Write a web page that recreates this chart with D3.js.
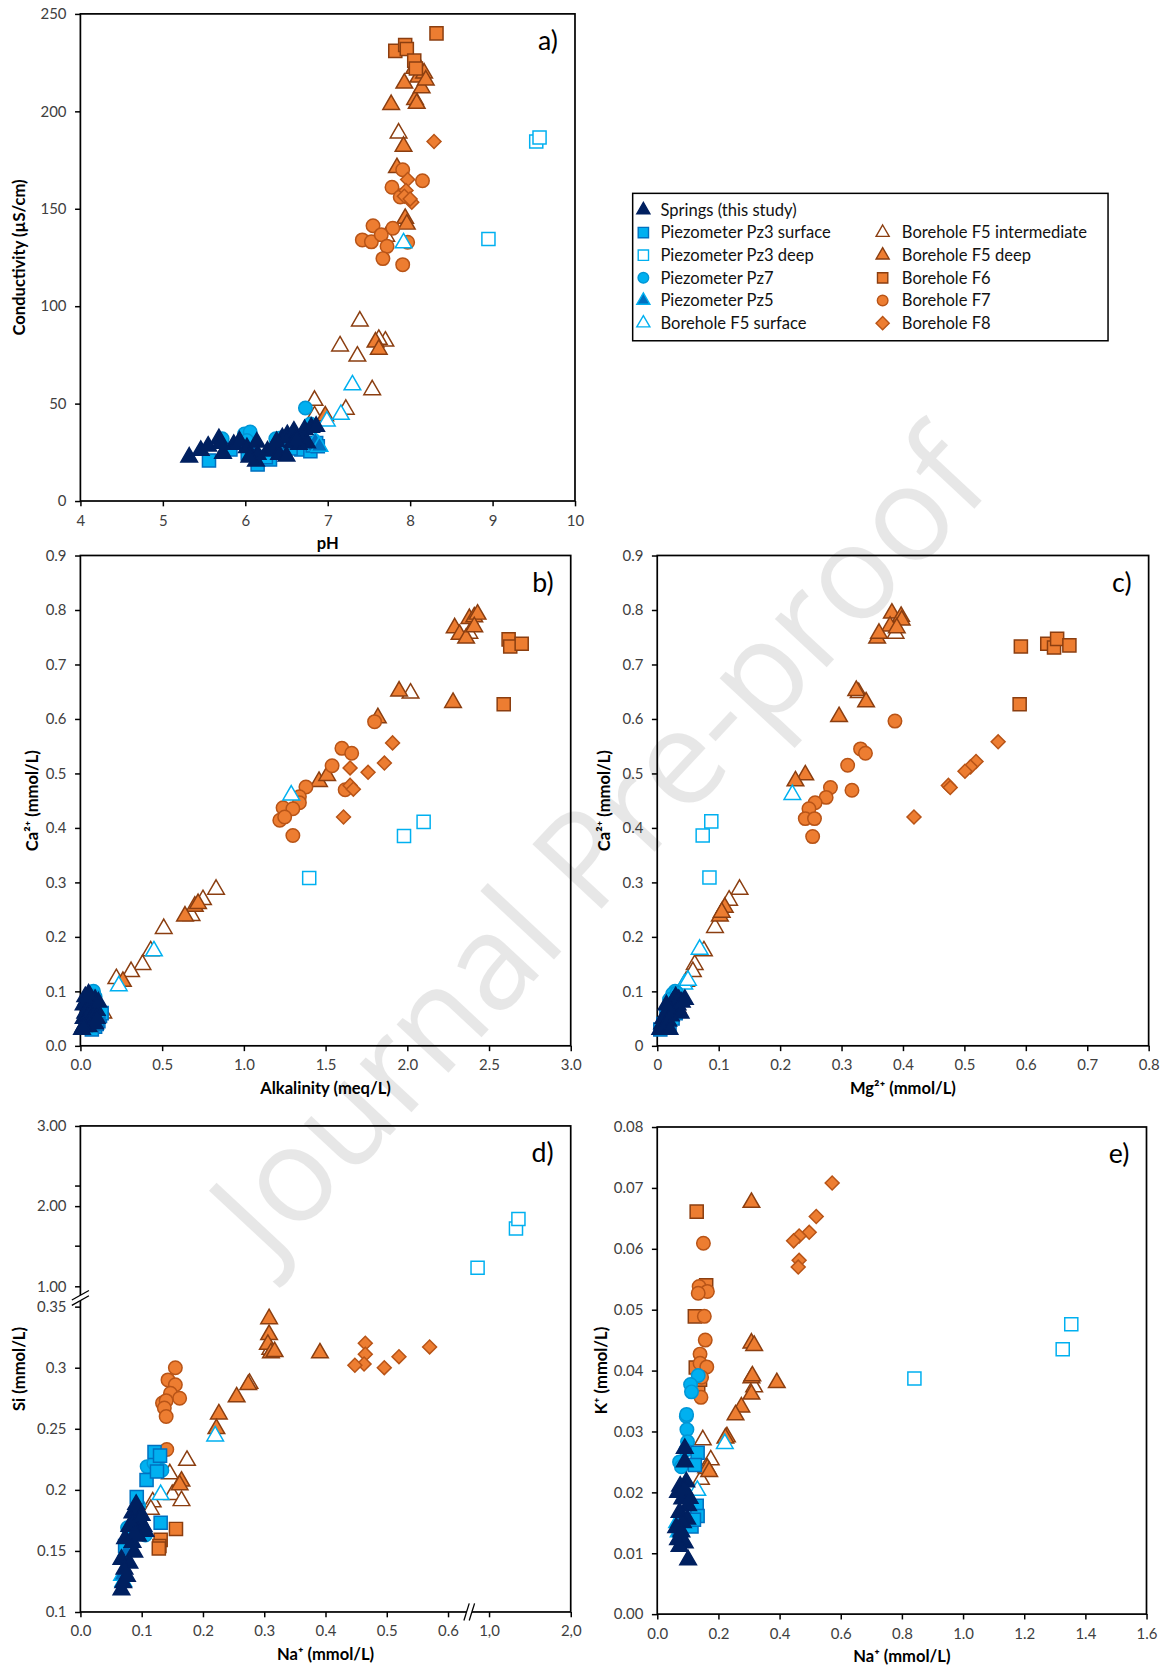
<html>
  <head>
    <script src="https://cdn.jsdelivr.net/npm/d3@7"></script>
    <style>
      body { margin: 0; background: #fff; }
      text { font-family: Lato, "Open Sans", sans-serif; }
    </style>
  </head>
  <body>
    <script>
        // ---- data, one array per series and panel ----
        // a) pH vs conductivity (uS/cm)
        var a_springs = [[5.32,22.5],[5.46,25.9],[5.55,28.1],[5.68,31.9],[5.73,24.4],[5.86,29],[5.93,30.7],[6.02,27.3],[6.14,30.2],[6.13,20.4],[6.15,23.9],[6.27,25.6],[6.33,26.4],[6.41,23.9],[6.50,23],[6.45,32.4],[6.51,34],[6.59,35.8],[6.68,32.4],[6.72,36.6],[6.80,37.8],[6.86,38.3],[6.57,29.8],[6.65,29],[6.75,29.8],[5.70,29.5],[6.05,22.5],[6.38,30.5],[6.62,31.5]];
        var a_pz3s = [[5.56,20.8],[5.82,26.4],[6.03,24.4],[6.15,18.7],[6.30,21.3],[6.68,26.4],[6.79,25.6],[6.82,28.5],[6.86,29.8],[6.88,28.1],[6.25,22.5],[6.55,27]];
        var a_pz3d = [[8.95,134.5],[9.53,184.5],[9.57,186.6]];
        var a_pz7 = [[6.73,47.7],[6.79,39.5],[5.99,34.4],[6.06,35.4],[5.72,31.9],[6.37,31.9],[6.43,32.4],[6.02,31]];
        var a_pz5 = [[6.85,30.5],[6.90,28],[6.40,27]];
        var a_f5s = [[7.30,59.5],[7.16,44.4],[6.99,41],[7.92,132.4],[6.88,29]];
        var a_f5i = [[7.86,188.8],[7.39,92.3],[7.15,79.5],[7.36,74.3],[7.70,82],[7.62,82.9],[7.54,57],[7.22,47],[6.84,51.6],[6.84,43.6],[7.71,135.8],[8.12,222]];
        var a_f5d = [[7.93,214.4],[7.77,203.4],[8.06,206],[8.08,204],[8.14,212],[8.10,217.5],[8.17,219.6],[8.19,216],[7.92,182],[7.94,145],[7.96,142],[7.84,171],[7.58,81.5],[7.62,77.8],[6.97,43.6],[8.05,222]];
        var a_f6 = [[7.82,231],[7.94,234],[7.96,232],[8.05,226],[8.07,222],[8.32,240]];
        var a_f7 = [[7.91,170],[8.15,164.4],[7.78,161],[7.91,157],[7.88,156],[7.55,141.3],[7.79,140],[7.42,134],[7.53,133],[7.65,136.7],[7.72,130.7],[7.97,132.8],[7.67,124.4],[7.91,121.3]];
        var a_f8 = [[8.29,184.5],[7.97,165],[7.95,159.4],[7.93,156.4],[8.02,153.3],[8.00,155]];

        // b) alkalinity (meq/L) vs Ca (mmol/L)
        var b_springs = [[0.01,0.03],[0.02,0.05],[0.02,0.075],[0.03,0.04],[0.03,0.06],[0.04,0.085],[0.04,0.05],[0.05,0.07],[0.05,0.035],[0.06,0.09],[0.06,0.06],[0.07,0.045],[0.07,0.08],[0.08,0.07],[0.08,0.055],[0.09,0.085],[0.09,0.04],[0.10,0.065],[0.03,0.09],[0.11,0.08],[0.05,0.095],[0.02,0.035],[0.10,0.05]];
        var b_pz3s = [[0.12,0.055],[0.13,0.06],[0.11,0.045],[0.09,0.035],[0.07,0.03],[0.10,0.04]];
        var b_pz3d = [[1.40,0.308],[1.98,0.385],[2.10,0.411]];
        var b_pz7 = [[0.08,0.10],[0.07,0.092],[0.06,0.085],[0.09,0.09]];
        var b_pz5 = [[0.05,0.05],[0.08,0.06]];
        var b_f5s = [[1.29,0.46],[0.45,0.174],[0.235,0.11]];
        var b_f5i = [[2.02,0.647],[2.38,0.757],[0.83,0.287],[0.75,0.268],[0.68,0.239],[0.51,0.215],[0.43,0.174],[0.38,0.149],[0.31,0.136],[0.22,0.123],[0.14,0.06]];
        var b_f5d = [[2.29,0.767],[2.32,0.755],[2.36,0.748],[2.38,0.784],[2.41,0.787],[2.43,0.792],[2.41,0.769],[1.95,0.651],[2.28,0.63],[1.46,0.485],[1.51,0.496],[1.82,0.602],[0.70,0.256],[0.64,0.238],[0.26,0.118],[0.72,0.261]];
        var b_f6 = [[2.62,0.746],[2.63,0.733],[2.70,0.738],[2.59,0.627]];
        var b_f7 = [[1.80,0.595],[1.60,0.546],[1.66,0.537],[1.54,0.514],[1.38,0.475],[1.34,0.457],[1.34,0.446],[1.24,0.437],[1.30,0.435],[1.22,0.414],[1.30,0.386],[1.62,0.47],[1.25,0.42]];
        var b_f8 = [[1.91,0.556],[1.86,0.519],[1.76,0.502],[1.65,0.51],[1.65,0.478],[1.67,0.471],[1.61,0.42]];

        // c) Mg vs Ca (mmol/L)
        var c_springs = [[0.005,0.03],[0.008,0.04],[0.01,0.05],[0.012,0.035],[0.015,0.06],[0.018,0.045],[0.02,0.07],[0.022,0.055],[0.025,0.08],[0.028,0.065],[0.03,0.09],[0.033,0.075],[0.035,0.085],[0.038,0.06],[0.04,0.08],[0.015,0.075],[0.045,0.085],[0.02,0.03]];
        var c_pz3s = [[0.01,0.04],[0.015,0.055],[0.02,0.035],[0.025,0.05],[0.03,0.06],[0.005,0.03]];
        var c_pz3d = [[0.088,0.412],[0.074,0.386],[0.085,0.309]];
        var c_pz7 = [[0.029,0.10],[0.025,0.095],[0.02,0.085],[0.032,0.097]];
        var c_pz5 = [[0.012,0.05],[0.018,0.065]];
        var c_f5s = [[0.22,0.461],[0.069,0.177],[0.044,0.113],[0.05,0.12]];
        var c_f5i = [[0.388,0.757],[0.328,0.648],[0.134,0.287],[0.117,0.267],[0.094,0.217],[0.076,0.174],[0.061,0.149],[0.058,0.136],[0.033,0.07]];
        var c_f5d = [[0.382,0.794],[0.397,0.788],[0.398,0.781],[0.379,0.770],[0.390,0.767],[0.358,0.748],[0.361,0.757],[0.324,0.652],[0.340,0.631],[0.296,0.604],[0.241,0.497],[0.225,0.486],[0.102,0.238],[0.110,0.254],[0.047,0.118],[0.105,0.245]];
        var c_f6 = [[0.592,0.733],[0.635,0.738],[0.646,0.731],[0.651,0.747],[0.671,0.735],[0.590,0.627]];
        var c_f7 = [[0.387,0.596],[0.331,0.545],[0.339,0.537],[0.310,0.515],[0.282,0.474],[0.275,0.456],[0.257,0.446],[0.247,0.435],[0.241,0.417],[0.256,0.417],[0.317,0.469],[0.253,0.384]];
        var c_f8 = [[0.555,0.558],[0.519,0.522],[0.510,0.512],[0.501,0.504],[0.474,0.478],[0.477,0.474],[0.418,0.420]];

        // d) Na vs Si (mmol/L)
        var d_springs = [[0.067,0.118],[0.070,0.124],[0.076,0.129],[0.067,0.143],[0.080,0.140],[0.088,0.149],[0.085,0.157],[0.094,0.162],[0.085,0.181],[0.094,0.184],[0.103,0.170],[0.096,0.176],[0.080,0.170],[0.106,0.166],[0.091,0.188],[0.073,0.160],[0.085,0.173],[0.100,0.179],[0.072,0.135],[0.090,0.165]];
        var d_pz3s = [[0.121,0.231],[0.130,0.228],[0.108,0.208],[0.131,0.173],[0.092,0.194],[0.073,0.154],[0.125,0.215]];
        var d_pz3d = [[0.86,1.23],[1.33,1.72],[1.36,1.84]];
        var d_pz7 = [[0.109,0.219],[0.133,0.216],[0.095,0.187],[0.077,0.169],[0.106,0.163],[0.120,0.222]];
        var d_pz5 = [[0.068,0.13],[0.075,0.15]];
        var d_f5s = [[0.220,0.244],[0.131,0.196],[0.070,0.125]];
        var d_f5i = [[0.276,0.287],[0.174,0.224],[0.146,0.213],[0.150,0.196],[0.165,0.191],[0.118,0.19],[0.115,0.184],[0.310,0.315]];
        var d_f5d = [[0.308,0.340],[0.308,0.327],[0.306,0.319],[0.311,0.312],[0.317,0.313],[0.391,0.312],[0.274,0.286],[0.255,0.276],[0.226,0.262],[0.222,0.25],[0.165,0.207],[0.162,0.204]];
        var d_f6 = [[0.156,0.168],[0.131,0.159],[0.129,0.154],[0.128,0.152]];
        var d_f7 = [[0.155,0.30],[0.143,0.29],[0.155,0.286],[0.147,0.279],[0.162,0.275],[0.134,0.271],[0.140,0.273],[0.137,0.267],[0.140,0.26],[0.141,0.233]];
        var d_f8 = [[0.465,0.32],[0.465,0.311],[0.463,0.303],[0.448,0.302],[0.496,0.30],[0.52,0.309],[0.57,0.317]];

        // e) Na vs K (mmol/L)
        var e_springs = [[0.090,0.0272],[0.090,0.025],[0.068,0.020],[0.095,0.0217],[0.082,0.0189],[0.101,0.0178],[0.073,0.0167],[0.098,0.0156],[0.062,0.0142],[0.084,0.015],[0.068,0.0122],[0.090,0.0117],[0.073,0.0111],[0.101,0.0089],[0.075,0.021],[0.106,0.019],[0.088,0.0205],[0.079,0.0135]];
        var e_pz3s = [[0.132,0.0265],[0.123,0.0245],[0.129,0.0178],[0.132,0.0161],[0.112,0.0144],[0.120,0.0155]];
        var e_pz3d = [[0.841,0.0387],[1.326,0.0435],[1.354,0.0476]];
        var e_pz7 = [[0.134,0.0392],[0.109,0.0377],[0.112,0.0365],[0.095,0.0325],[0.097,0.0303],[0.099,0.0283],[0.093,0.0269],[0.073,0.025],[0.079,0.0242],[0.096,0.0328]];
        var e_pz5 = [[0.065,0.015],[0.070,0.0135]];
        var e_f5s = [[0.221,0.028],[0.131,0.0203],[0.068,0.0144]];
        var e_f5i = [[0.149,0.0286],[0.175,0.0253],[0.143,0.0221],[0.317,0.0373],[0.160,0.024]];
        var e_f5d = [[0.308,0.0676],[0.308,0.0445],[0.317,0.0441],[0.308,0.0388],[0.311,0.0391],[0.391,0.038],[0.308,0.0361],[0.275,0.034],[0.256,0.0327],[0.228,0.0291],[0.223,0.0289],[0.164,0.0239],[0.170,0.0234]];
        var e_f6 = [[0.129,0.0661],[0.160,0.054],[0.123,0.0489],[0.126,0.0405],[0.134,0.0372],[0.140,0.0385]];
        var e_f7 = [[0.151,0.0609],[0.137,0.0538],[0.164,0.053],[0.134,0.0527],[0.154,0.0489],[0.157,0.045],[0.140,0.0427],[0.140,0.0412],[0.162,0.0406],[0.145,0.0389],[0.143,0.0356]];
        var e_f8 = [[0.572,0.0708],[0.520,0.0653],[0.497,0.0627],[0.464,0.0621],[0.446,0.0613],[0.464,0.0581],[0.461,0.057]];

        // tick labels
        var a_xTicks = [4,5,6,7,8,9,10], a_yTicks = [0,50,100,150,200,250];
        var b_xTicks = [0,0.5,1,1.5,2,2.5,3], ca_yTicks = [0,0.1,0.2,0.3,0.4,0.5,0.6,0.7,0.8,0.9];
        var c_xTicks = [0,0.1,0.2,0.3,0.4,0.5,0.6,0.7,0.8];
        var d_xTicks = [0,0.1,0.2,0.3,0.4,0.5,0.6,1,2], d_yTicks = [0.1,0.15,0.2,0.25,0.3,0.35,1,2,3], d_yMinor = [1.5,2.25];
        var e_xTicks = [0,0.2,0.4,0.6,0.8,1,1.2,1.4,1.6], e_yTicks = [0,0.01,0.02,0.03,0.04,0.05,0.06,0.07,0.08];

        var seriesKeys = ["springs","pz3s","pz3d","pz7","pz5","f5s","f5i","f5d","f6","f7","f8"];
        var seriesNames = ["Springs (this study)","Piezometer Pz3 surface","Piezometer Pz3 deep","Piezometer Pz7","Piezometer Pz5","Borehole F5 surface","Borehole F5 intermediate","Borehole F5 deep","Borehole F6","Borehole F7","Borehole F8"];

        // ---- styles ----
        var style = {
          springs: {sym:"tri", fill:"#002060", stroke:"#002060"},
          pz3s:    {sym:"sq",  fill:"#00B0F0", stroke:"#0070C0"},
          pz3d:    {sym:"sq",  fill:"#fff",    stroke:"#00B0F0"},
          pz7:     {sym:"ci",  fill:"#00B0F0", stroke:"#0096D6"},
          pz5:     {sym:"tri", fill:"#0070C0", stroke:"#00B0F0"},
          f5s:     {sym:"tri", fill:"#fff",    stroke:"#00B0F0"},
          f5i:     {sym:"tri", fill:"#fff",    stroke:"#8B3E10"},
          f5d:     {sym:"tri", fill:"#ED7D31", stroke:"#8B3E10"},
          f6:      {sym:"sq",  fill:"#ED7D31", stroke:"#8B3E10"},
          f7:      {sym:"ci",  fill:"#ED7D31", stroke:"#B85417"},
          f8:      {sym:"di",  fill:"#ED7D31", stroke:"#B85417"}
        };
        var drawOrder = ["f5i","f5d","f6","f7","f8","f5s","pz3d","pz7","pz3s","pz5","springs"];

        function symPath(s, k) {
          var t = {tri: d3.symbolTriangle, sq: d3.symbolSquare, ci: d3.symbolCircle, di: d3.symbolSquare}[s];
          var size = {tri: 105, sq: 150, ci: 125, di: 85}[s] * k;
          return d3.symbol(t, size)();
        }

        var W = 1091, H = 1568;
        var svg = d3.select("body").append("svg")
            .attr("width", 1166).attr("height", 1675)
            .attr("viewBox", "0 0 " + W + " " + H);

        // watermark
        svg.append("text")
            .attr("transform", "translate(560,790) rotate(-47)")
            .attr("text-anchor", "middle")
            .attr("dy", "0.35em")
            .style("font-family", "'Open Sans', sans-serif")
            .style("font-size", "124px")
            .attr("fill", "#000").attr("opacity", 0.09)
            .text("Journal Pre-proof");

        var f1 = d3.format(".1f"), f2 = d3.format(".2f");

        function drawPanel(o) {
          var g = svg.append("g");
          var xr = o.x.range(), yr = o.y.range();
          var x0 = xr[0], x1 = xr[xr.length - 1], y0 = yr[0], y1 = yr[yr.length - 1];

          var xa = g.append("g").attr("transform", "translate(0," + y0 + ")")
            .call(d3.axisBottom(o.x).tickValues(o.xTicks).tickFormat(o.xFmt).tickSize(5).tickSizeOuter(0).tickPadding(8));
          var ya = g.append("g").attr("transform", "translate(" + x0 + ",0)")
            .call(d3.axisLeft(o.y).tickValues(o.yTicks).tickFormat(o.yFmt).tickSize(5).tickSizeOuter(0).tickPadding(8));
          [xa, ya].forEach(function(a) {
            a.select(".domain").remove();
            a.selectAll(".tick line").attr("stroke", "#000").attr("stroke-width", 1.4);
            a.selectAll(".tick text").attr("fill", "#404040").style("font-size", "14px").style("font-family", "Lato, sans-serif");
          });
          if (o.yMinor) {
            g.selectAll(null).data(o.yMinor).join("line")
              .attr("x1", x0 - 5).attr("x2", x0).attr("y1", function(d){return o.y(d);}).attr("y2", function(d){return o.y(d);})
              .attr("stroke", "#000").attr("stroke-width", 1.4);
          }

          g.append("rect").attr("x", x0).attr("y", y1).attr("width", x1 - x0).attr("height", y0 - y1)
            .attr("fill", "none").attr("stroke", "#000").attr("stroke-width", 1.6);

          drawOrder.forEach(function(k) {
            var st = style[k];
            g.selectAll(null).data(o.data[k]).join("path")
              .attr("d", symPath(st.sym, 1))
              .attr("transform", function(d) {
                return "translate(" + o.x(d[0]) + "," + o.y(d[1]) + ")" + (st.sym === "di" ? " rotate(45)" : "");
              })
              .attr("fill", st.fill).attr("stroke", st.stroke).attr("stroke-width", 1.4);
          });

          g.append("text").attr("x", (x0 + x1) / 2).attr("y", y0 + 45)
            .attr("text-anchor", "middle").style("font-weight", "bold").style("font-size", "15.5px")
            .text(o.xTitle);
          g.append("text").attr("transform", "translate(" + (o.yTitleX + 5.5) + "," + ((y0 + y1) / 2) + ") rotate(-90)")
            .attr("text-anchor", "middle").style("font-weight", "bold").style("font-size", "15.5px")
            .text(o.yTitle);
          g.append("text").attr("x", x1 - 16).attr("y", y1 + 34)
            .attr("text-anchor", "end").style("font-size", "25px")
            .text(o.letter);
          return g;
        }

        function pack(p) {
          return {springs: p[0], pz3s: p[1], pz3d: p[2], pz7: p[3], pz5: p[4], f5s: p[5], f5i: p[6], f5d: p[7], f6: p[8], f7: p[9], f8: p[10]};
        }

        // a)
        drawPanel({
          x: d3.scaleLinear([4, 10], [75, 538]), y: d3.scaleLinear([0, 250], [469, 13]),
          xTicks: a_xTicks, yTicks: a_yTicks, xFmt: d3.format("d"), yFmt: d3.format("d"),
          xTitle: "pH", yTitle: "Conductivity (µS/cm)", yTitleX: 18, letter: "a)",
          data: pack([a_springs,a_pz3s,a_pz3d,a_pz7,a_pz5,a_f5s,a_f5i,a_f5d,a_f6,a_f7,a_f8])
        });
        // b)
        drawPanel({
          x: d3.scaleLinear([0, 3], [75, 534]), y: d3.scaleLinear([0, 0.9], [979, 520]),
          xTicks: b_xTicks, yTicks: ca_yTicks, xFmt: f1, yFmt: f1,
          xTitle: "Alkalinity (meq/L)", yTitle: "Ca²⁺ (mmol/L)", yTitleX: 30, letter: "b)",
          data: pack([b_springs,b_pz3s,b_pz3d,b_pz7,b_pz5,b_f5s,b_f5i,b_f5d,b_f6,b_f7,b_f8])
        });
        // c)
        drawPanel({
          x: d3.scaleLinear([0, 0.8], [615, 1075]), y: d3.scaleLinear([0, 0.9], [979, 520]),
          xTicks: c_xTicks, yTicks: ca_yTicks,
          xFmt: function(v){ return v === 0 ? "0" : f1(v); }, yFmt: function(v){ return v === 0 ? "0" : f1(v); },
          xTitle: "Mg²⁺ (mmol/L)", yTitle: "Ca²⁺ (mmol/L)", yTitleX: 565, letter: "c)",
          data: pack([c_springs,c_pz3s,c_pz3d,c_pz7,c_pz5,c_f5s,c_f5i,c_f5d,c_f6,c_f7,c_f8])
        });
        // d) broken axes
        var dx = d3.scaleLinear([0, 0.6364, 0.771, 2], [75, 440, 440, 534]);
        var dy = d3.scaleLinear([0.1, 0.358, 0.868, 3], [1509, 1214, 1214, 1054]);
        var gd = drawPanel({
          x: dx, y: dy,
          xTicks: d_xTicks, yTicks: d_yTicks, yMinor: d_yMinor,
          xFmt: function(v){ return v >= 1 ? f1(v).replace(".", ",") : f1(v); },
          yFmt: function(v){ return v >= 1 ? f2(v) : String(v); },
          xTitle: "Na⁺ (mmol/L)", yTitle: "Si (mmol/L)", yTitleX: 18, letter: "d)",
          data: pack([d_springs,d_pz3s,d_pz3d,d_pz7,d_pz5,d_f5s,d_f5i,d_f5d,d_f6,d_f7,d_f8])
        });
        // break marks
        var bx = 440, by = 1509, ax = 75, ay = 1214;
        gd.append("polygon").attr("points", [[bx-6,by+8],[bx-1,by-8],[bx+4,by-8],[bx-1,by+8]].join(" ")).attr("fill", "#fff");
        gd.append("polygon").attr("points", [[ax-8,ay+3],[ax+8,ay-6],[ax+8,ay-1],[ax-8,ay+8]].join(" ")).attr("fill", "#fff");
        [[bx-6,by+8,bx-1,by-8],[bx-1,by+8,bx+4,by-8],[ax-8,ay+3,ax+8,ay-6],[ax-8,ay+8,ax+8,ay-1]].forEach(function(l) {
          gd.append("line").attr("x1", l[0]).attr("y1", l[1]).attr("x2", l[2]).attr("y2", l[3])
            .attr("stroke", "#000").attr("stroke-width", 1.2);
        });
        // e)
        drawPanel({
          x: d3.scaleLinear([0, 1.6], [615, 1073]), y: d3.scaleLinear([0, 0.08], [1511, 1055]),
          xTicks: e_xTicks, yTicks: e_yTicks, xFmt: f1, yFmt: f2,
          xTitle: "Na⁺ (mmol/L)", yTitle: "K⁺ (mmol/L)", yTitleX: 562, letter: "e)",
          data: pack([e_springs,e_pz3s,e_pz3d,e_pz7,e_pz5,e_f5s,e_f5i,e_f5d,e_f6,e_f7,e_f8])
        });

        // legend
        var lg = svg.append("g");
        lg.append("rect").attr("x", 592).attr("y", 181).attr("width", 445).attr("height", 138)
          .attr("fill", "#fff").attr("stroke", "#000").attr("stroke-width", 1.4);
        var rowY = function(r) { return 196.5 + r * 21.2; };
        var items = seriesKeys.map(function(k, i) {
          return i < 6 ? {k: k, name: seriesNames[i], mx: 602, tx: 618, r: i}
                       : {k: k, name: seriesNames[i], mx: 826, tx: 844, r: i - 5};
        });
        var li = lg.selectAll("g.item").data(items).join("g").attr("class", "item");
        li.append("path")
          .attr("d", function(d){ return symPath(style[d.k].sym, d.k === "f8" ? 0.9 : 0.62); })
          .attr("transform", function(d){ return "translate(" + d.mx + "," + rowY(d.r) + ")" + (style[d.k].sym === "di" ? " rotate(45)" : ""); })
          .attr("fill", function(d){ return style[d.k].fill; })
          .attr("stroke", function(d){ return style[d.k].stroke; })
          .attr("stroke-width", 1.3);
        li.append("text").attr("x", function(d){ return d.tx; }).attr("y", function(d){ return rowY(d.r) + 5.5; })
          .style("font-size", "15.5px").attr("fill", "#111")
          .text(function(d){ return d.name; });
    </script>
  </body>
</html>
